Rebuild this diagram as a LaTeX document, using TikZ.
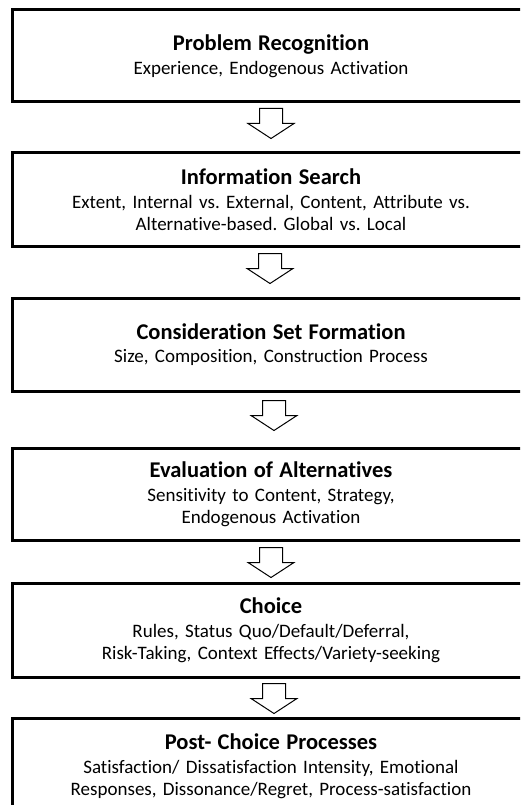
\documentclass[tikz,border=0pt]{standalone}
\usepackage{fontspec}
\setmainfont{Carlito}[Ligatures={NoCommon}]
\frenchspacing
\usetikzlibrary{calc}
\begin{document}
\begin{tikzpicture}[x=1pt,y=1pt,
  box/.style={draw, line width=3pt, minimum width=518pt, inner sep=0pt, align=center, text width=510pt, font=\fontsize{19}{22}\selectfont},
  blk/.style={draw, line width=1pt, fill=white, line join=miter}]
\newcommand{\ttl}[1]{{\fontsize{22.5}{24}\selectfont\bfseries #1}\\[1.5pt]}
\useasboundingbox (0,0) rectangle (520,-805);
\clip (0,0) rectangle (520,-805);
\node[box, minimum height=92pt] (b1) at (271,-56) {\ttl{Problem Recognition}Experience, Endogenous Activation};
\node[box, minimum height=93pt] (b2) at (271,-199.5) {\ttl{Information Search}Extent, Internal vs. External, Content, Attribute vs.\\Alternative-based. Global vs. Local};
\node[box, minimum height=93pt] (b3) at (271,-344.5) {\ttl{Consideration Set Formation}Size, Composition, Construction Process};
\node[box, minimum height=92pt] (b4) at (271,-494) {\ttl{Evaluation of Alternatives}Sensitivity to Content, Strategy,\\Endogenous Activation};
\node[box, minimum height=94pt] (b5) at (271,-630) {\ttl{Choice}Rules, Status Quo/Default/Deferral,\\Risk-Taking, Context Effects/Variety-seeking};
\node[box, minimum height=96pt] (b6) at (271,-766) {\ttl{Post- Choice Processes}Satisfaction/ Dissatisfaction Intensity, Emotional\\Responses, Dissonance/Regret, Process-satisfaction};
\coordinate (a1) at ($(b1.south)+(0,-5)$);
\coordinate (a2) at ($(b2.south)+(-1,-6)$);
\coordinate (a3) at ($(b3.south)+(3,-8)$);
\coordinate (a4) at ($(b4.south)+(0,-6)$);
\coordinate (a5) at ($(b5.south)+(3,-5)$);
\foreach \a in {a1,a2,a3,a4,a5}{
  \draw[blk] (\a) ++(-11.5,0) -- ++(23,0) -- ++(0,-15) -- ++(11.5,0) -- ++(-23,-15) -- ++(-23,15) -- ++(11.5,0) -- cycle;
}
\end{tikzpicture}
\end{document}
